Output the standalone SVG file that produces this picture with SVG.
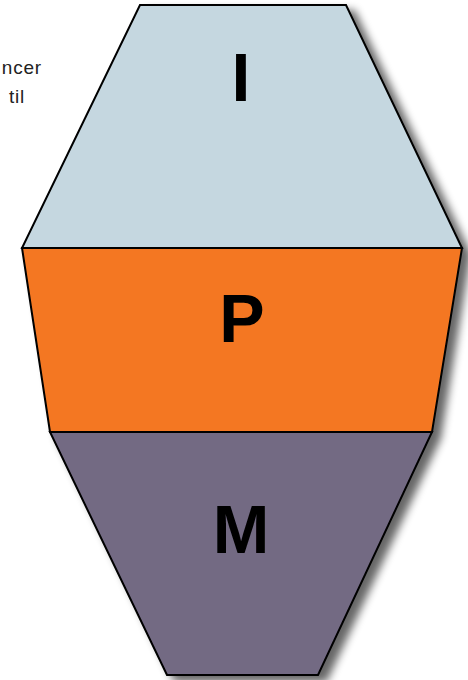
<svg xmlns="http://www.w3.org/2000/svg" width="468" height="680" viewBox="0 0 468 680">
<style>
.sh{stroke:#000;stroke-width:2;stroke-linejoin:miter}
.big{font-family:"Liberation Sans",Arial,sans-serif;font-weight:bold;font-size:68px;fill:#000;text-anchor:middle}
.note{font-family:"Liberation Sans",Arial,sans-serif;font-size:19px;letter-spacing:0.8px;fill:#222;text-anchor:end}
</style>
<defs>
<filter id="ds" x="-10%" y="-10%" width="130%" height="130%">
<feGaussianBlur in="SourceAlpha" stdDeviation="4.5"/>
<feOffset dx="8" dy="6" result="b"/>
<feComponentTransfer><feFuncA type="linear" slope="0.6"/></feComponentTransfer>
<feMerge><feMergeNode/><feMergeNode in="SourceGraphic"/></feMerge>
</filter>
</defs>
<rect width="468" height="680" fill="#fff"/>
<g id="notes">
<text class="note" x="42" y="74">ncer</text>
<text class="note" x="25" y="103">til</text>
</g>
<g filter="url(#ds)">
<g id="node-I">
<polygon class="sh" points="140,5 346,5 462,248 22,248" fill="#C5D7E0"/>
<text class="big" x="241" y="101">I</text>
</g>
<g id="node-P">
<polygon class="sh" points="22,248 462,248 432,432 50,432" fill="#F47721"/>
<text class="big" x="242" y="342">P</text>
</g>
<g id="node-M">
<polygon class="sh" points="50,432 432,432 318,675 167,675" fill="#736A83"/>
<text class="big" x="241" y="553">M</text>
</g>
</g>
<g id="connectors"></g>
</svg>
